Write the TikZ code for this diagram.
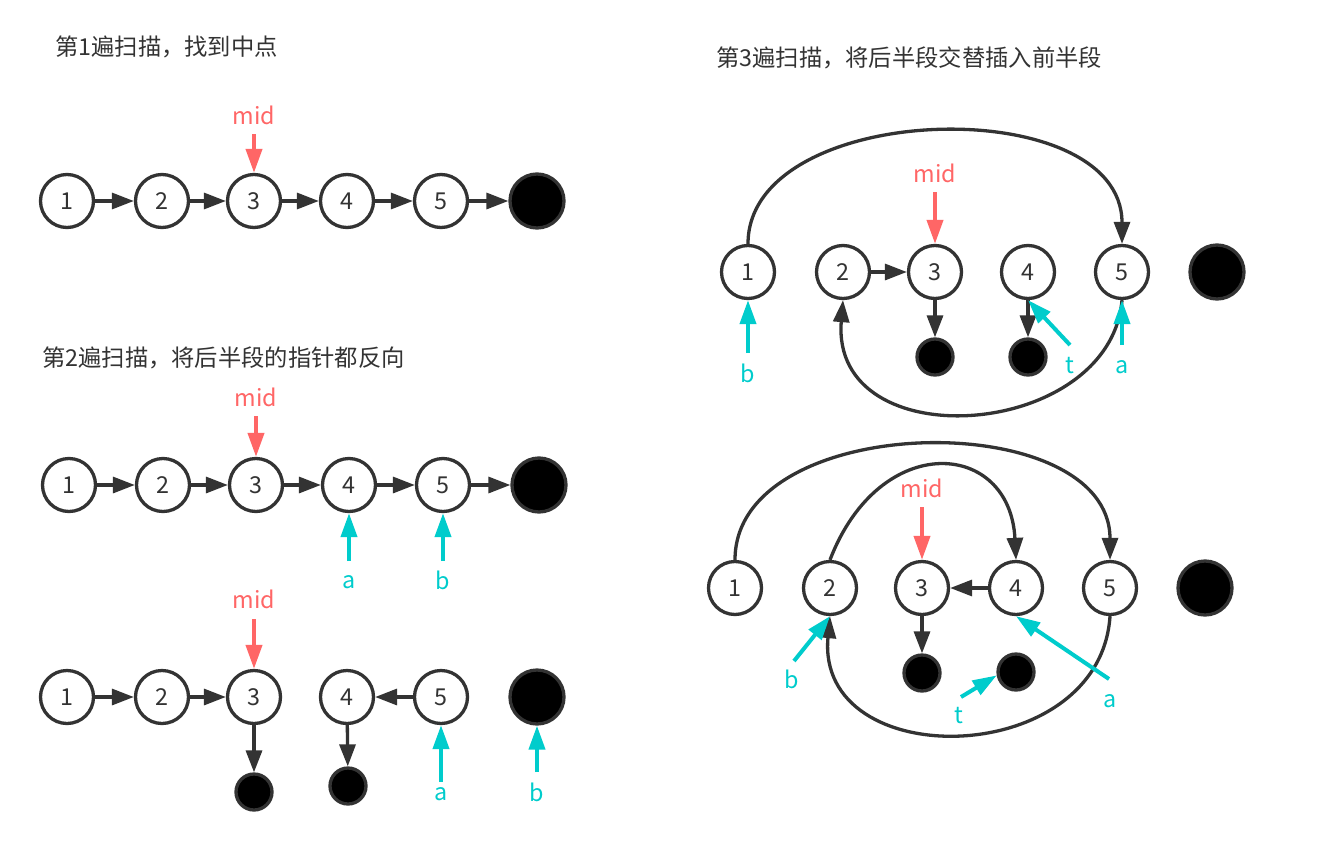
\documentclass[tikz,border=0pt]{standalone}
\usepackage{fontspec}
\setmainfont{Noto Sans CJK SC}
\usetikzlibrary{arrows.meta}
\definecolor{ink}{HTML}{333333}
\definecolor{midred}{HTML}{FF6666}
\definecolor{ptr}{HTML}{00CCCC}
\tikzset{
  fnt/.style={font=\fontsize{23.3}{27}\selectfont},
  nd/.style={circle, draw=ink, line width=3.3pt, minimum size=53pt, inner sep=0pt, fill=white, text=ink, fnt},
  bigblk/.style={circle, draw=ink, fill=black, line width=3.3pt, minimum size=54pt, inner sep=0pt},
  smblk/.style={circle, draw=ink, fill=black, line width=3.3pt, minimum size=36pt, inner sep=0pt},
  conn/.style={draw=ink, line width=3.3pt, -{Triangle[length=22pt,width=16pt]}},
  midarrow/.style={draw=midred, line width=4pt, -{Triangle[length=24pt,width=16pt]}},
  ptrarrow/.style={draw=ptr, line width=4pt, -{Triangle[length=24pt,width=16pt]}},
  midlbl/.style={text=midred, inner sep=0pt, fnt},
  ptrlbl/.style={text=ptr, inner sep=0pt, fnt},
  ttl/.style={anchor=west, inner sep=0pt, text=ink, fnt},
}
\begin{document}
\begin{tikzpicture}[x=1pt,y=-1pt]
\fill[white] (0,0) rectangle (1320,846);
\useasboundingbox (0,0) rectangle (1320,846);

% ---------- Titles ----------
\node[ttl] (t1) at (55,47) {第1遍扫描，找到中点};
\node[ttl] (t2) at (42,358) {第2遍扫描，将后半段的指针都反向};
\node[ttl] (t3) at (716,58) {第3遍扫描，将后半段交替插入前半段};

% ---------- Panel 1 ----------
\node[nd] (A1) at (67,201) {1};
\node[nd] (A2) at (162,201) {2};
\node[nd] (A3) at (254,201) {3};
\node[nd] (A4) at (347,201) {4};
\node[nd] (A5) at (441,201) {5};
\node[bigblk] (A6) at (537,201) {};
\node[midlbl] (Am) at (254,115) {mid};
\coordinate (Ams) at (254,134);
\draw[conn] (A1) -- (A2);
\draw[conn] (A2) -- (A3);
\draw[conn] (A3) -- (A4);
\draw[conn] (A4) -- (A5);
\draw[conn] (A5) -- (A6);
\draw[midarrow] (Ams) -- (A3.north);

% ---------- Panel 2 ----------
\node[nd] (B1) at (69,485) {1};
\node[nd] (B2) at (163,485) {2};
\node[nd] (B3) at (256,485) {3};
\node[nd] (B4) at (349,485) {4};
\node[nd] (B5) at (443,485) {5};
\node[bigblk] (B6) at (539,485) {};
\node[midlbl] (Bm) at (256,397) {mid};
\coordinate (Bms) at (256,416);
\node[ptrlbl] (Ba) at (349,582) {a};
\coordinate (Bas) at (349,561);
\node[ptrlbl] (Bb) at (443,580) {b};
\coordinate (Bbs) at (443,561);
\draw[conn] (B1) -- (B2);
\draw[conn] (B2) -- (B3);
\draw[conn] (B3) -- (B4);
\draw[conn] (B4) -- (B5);
\draw[conn] (B5) -- (B6);
\draw[midarrow] (Bms) -- (B3.north);
\draw[ptrarrow] (Bas) -- (B4.south);
\draw[ptrarrow] (Bbs) -- (B5.south);

% ---------- Panel 3 (bottom left) ----------
\node[nd] (C1) at (67,697) {1};
\node[nd] (C2) at (162,697) {2};
\node[nd] (C3) at (254,697) {3};
\node[nd] (C4) at (347,697) {4};
\node[nd] (C5) at (441,697) {5};
\node[bigblk] (C6) at (537,697) {};
\node[smblk] (D3) at (254,792) {};
\node[smblk] (D4) at (348,786) {};
\node[midlbl] (Cm) at (254,599) {mid};
\coordinate (Cms) at (254,619);
\node[ptrlbl] (Ca) at (441,794) {a};
\coordinate (Cas) at (441,782);
\node[ptrlbl] (Cb) at (537,792) {b};
\coordinate (Cbs) at (537,772);
\draw[conn] (C1) -- (C2);
\draw[conn] (C2) -- (C3);
\draw[conn] (C5) -- (C4);
\draw[conn] (C3) -- (D3);
\draw[conn] (C4) -- (D4);
\draw[midarrow] (Cms) -- (C3.north);
\draw[ptrarrow] (Cas) -- (C5.south);
\draw[ptrarrow] (Cbs) -- (C6.south);

% ---------- Panel 4 (top right) ----------
\node[nd] (E1) at (748,272) {1};
\node[nd] (E2) at (843,272) {2};
\node[nd] (E3) at (935,272) {3};
\node[nd] (E4) at (1028,272) {4};
\node[nd] (E5) at (1122,272) {5};
\node[bigblk] (E6) at (1217,272) {};
\node[smblk] (F3) at (935,357) {};
\node[smblk] (F4) at (1028,357) {};
\node[midlbl] (Em) at (935,173) {mid};
\coordinate (Ems) at (935,192);
\node[ptrlbl] (Eb) at (748,373) {b};
\coordinate (Ebs) at (748,353);
\node[ptrlbl] (Et) at (1070,366) {t};
\coordinate (Ets) at (1070,345);
\node[ptrlbl] (Ea) at (1122,367) {a};
\coordinate (Eas) at (1122,345);
\draw[conn] (E1.north) .. controls +(0,-144) and +(0,-154) .. (E5.north);
\draw[conn] (E2) -- (E3);
\draw[conn] (E3) -- (F3);
\draw[conn] (E4) -- (F4);
\draw[conn] (E5.south) .. controls +(-12,140) and +(-13,160) .. (E2.south);
\draw[midarrow] (Ems) -- (E3.north);
\draw[ptrarrow] (Ebs) -- (E1.south);
\draw[ptrarrow] (Ets) -- (E4.south);
\draw[ptrarrow] (Eas) -- (E5.south);

% ---------- Panel 5 (bottom right) ----------
\node[nd] (G1) at (735,588) {1};
\node[nd] (G2) at (830,588) {2};
\node[nd] (G3) at (922,588) {3};
\node[nd] (G4) at (1016,588) {4};
\node[nd] (G5) at (1110,588) {5};
\node[bigblk] (G6) at (1205,588) {};
\node[smblk] (H3) at (922,673) {};
\node[smblk] (H4) at (1016,672) {};
\node[midlbl] (Gm) at (922,488) {mid};
\coordinate (Gms) at (922,507);
\node[ptrlbl] (Gb) at (792,679) {b};
\coordinate (Gbs) at (794,661);
\node[ptrlbl] (Gt) at (959,716) {t};
\coordinate (Gts) at (961,697);
\node[ptrlbl] (Ga) at (1110,701) {a};
\coordinate (Gas) at (1109,679);
\draw[conn] (G1.north) .. controls +(0,-150) and +(0,-155) .. (G5.north);
\draw[conn] (G2.north) .. controls (880,430) and (1010,440) .. (G4.north);
\draw[conn] (G4) -- (G3);
\draw[conn] (G3) -- (H3);
\draw[conn] (G5.south) .. controls (1100,770) and (815,775) .. (G2.south);
\draw[midarrow] (Gms) -- (G3.north);
\draw[ptrarrow] (Gbs) -- (G2.south);
\draw[ptrarrow] (Gts) -- (H4.190);
\draw[ptrarrow] (Gas) -- (G4.south);
\end{tikzpicture}
\end{document}
